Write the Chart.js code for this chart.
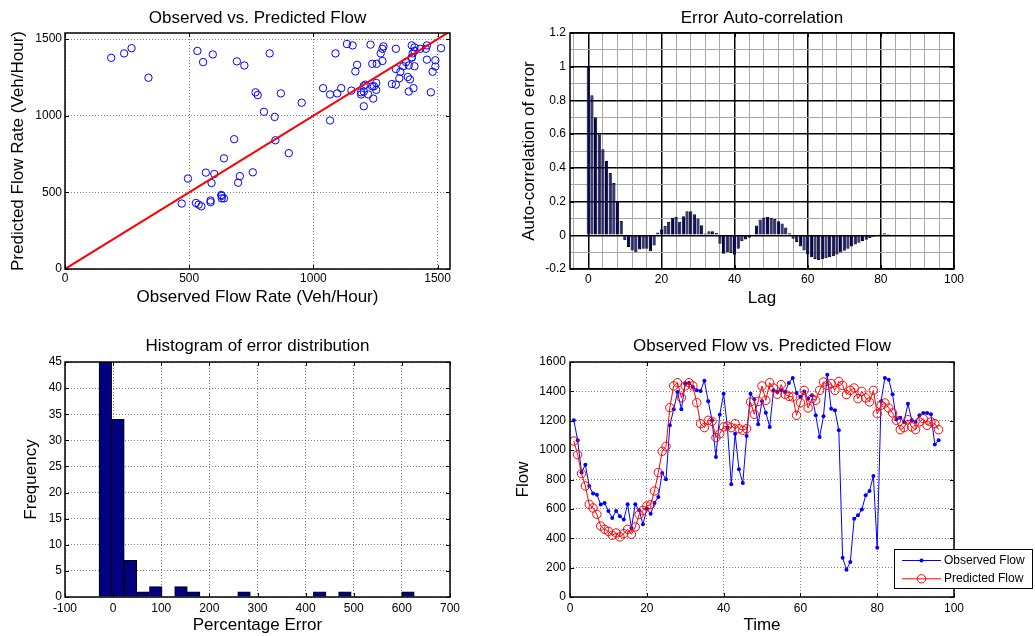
<!DOCTYPE html>
<html>
<head>
<meta charset="utf-8">
<script src="https://cdn.jsdelivr.net/npm/chart.js@4"></script>
<style>
body { margin: 0; background: #fff; width: 1035px; height: 636px; overflow: hidden; position: relative; }
canvas { position: absolute; }
</style>
</head>
<body>
<canvas id="scatter" width="510" height="318" style="left:0;top:0"></canvas>
<canvas id="acf" width="525" height="318" style="left:510px;top:0"></canvas>
<canvas id="hist" width="510" height="318" style="left:0;top:318px"></canvas>
<canvas id="flow" width="525" height="318" style="left:510px;top:318px"></canvas>
<script>
Chart.defaults.font.family = "'Liberation Sans', Arial, Helvetica, sans-serif"
Chart.defaults.font.size = 12
Chart.defaults.color = '#000'
Chart.defaults.animation = false

// time series (also gives the observed/predicted pairs of the scatter)
const timeSteps = [1,2,3,4,5,6,7,8,9,10,11,12,13,14,15,16,17,18,19,20,21,22,23,24,25,26,27,28,29,30,31,32,33,34,35,36,37,38,39,40,41,42,43,44,45,46,47,48,49,50,51,52,53,54,55,56,57,58,59,60,61,62,63,64,65,66,67,68,69,70,71,72,73,74,75,76,77,78,79,80,81,82,83,84,85,86,87,88,89,90,91,92,93,94,95,96]
const observedFlow = [1203,1067,847,901,756,704,697,629,640,586,
  538,586,549,527,631,470,631,590,495,601,
  567,640,681,844,801,1169,1278,1396,1278,1453,
  1457,1430,1407,1403,1473,1332,1203,953,1241,1384,
  1153,767,1112,869,776,1096,1384,1346,1176,1332,
  1255,1158,1407,1396,1407,1396,1457,1491,1389,1362,
  1400,1350,1373,1237,1089,1230,1514,1282,1271,1135,
  268,186,238,533,556,595,692,722,824,336,
  1332,1491,1480,1380,1210,1221,1192,1316,1203,1192,
  1237,1253,1253,1244,1039,1067]
const predictedFlow = [1062,969,840,756,631,606,563,483,461,447,
  420,436,409,431,461,427,477,561,590,620,
  629,722,847,992,1026,1289,1437,1459,1357,1437,
  1459,1437,1323,1180,1153,1203,1196,1085,1112,1158,
  1164,1153,1180,1146,1135,1146,1328,1244,1332,1437,
  1339,1459,1423,1380,1446,1380,1366,1362,1237,1323,
  1407,1287,1350,1339,1407,1464,1441,1453,1407,1468,
  1441,1378,1407,1423,1350,1400,1355,1328,1407,1248,
  1305,1321,1287,1253,1203,1139,1153,1207,1158,1139,
  1192,1214,1169,1192,1180,1139]
const flowTicks = [0,200,400,600,800,1000,1200,1400,1600]
const timeTicks = [0,20,40,60,80,100]

// scatter
const rateTicks = [0,500,1000,1500]
const diagonalLine = [0,1550]

// error auto-correlation
const lags = [0,1,2,3,4,5,6,7,8,9,10,11,12,13,14,15,16,17,18,19,20,21,22,23,24,25,26,27,28,29,30,31,32,33,34,35,36,37,38,39,40,41,42,43,44,45,46,47,48,49,50,51,52,53,54,55,56,57,58,59,60,61,62,63,64,65,66,67,68,69,70,71,72,73,74,75,76,77,78,79,80,81,82,83,84,85,86,87,88]
const acfValues = [1.0,0.83,0.70,0.60,0.51,0.44,0.37,0.31,0.205,0.085,
  -0.03,-0.07,-0.09,-0.10,-0.085,-0.08,-0.08,-0.095,-0.06,0.016,
  0.034,0.056,0.08,0.104,0.11,0.08,0.113,0.143,0.143,0.125,
  0.10,0.06,0.01,0.024,0.024,0.014,-0.05,-0.11,-0.10,-0.105,
  -0.115,-0.08,-0.035,-0.025,-0.015,0.005,0.058,0.094,0.105,0.11,
  0.104,0.096,0.084,0.07,0.046,0.012,-0.02,-0.04,-0.066,-0.09,
  -0.114,-0.13,-0.14,-0.146,-0.142,-0.136,-0.13,-0.124,-0.114,-0.102,
  -0.092,-0.08,-0.066,-0.054,-0.044,-0.034,-0.026,-0.016,-0.008,-0.002,
  0.01,0.012,0.008,0.004,0.004,0.004,0.004,0.004,0.004]
const lagTicks = [-4,0,4,8,12,16,20,24,28,32,36,40,44,48,52,56,60,64,68,72,76,80,84,88,92,96,100]
const acfTicks = [-0.2,-0.1,0,0.1,0.2,0.3,0.4,0.5,0.6,0.7,0.8,0.9,1,1.1,1.2]

// histogram of percentage error
const errorBins = [-16.2,10,36.2,62.4,88.6,114.8,141,167.2,193.4,219.6,245.8,272,298.2,324.4,350.6,376.8,403,429.2,455.4,481.6,507.8,534,560.2,586.4,612.6]
const errorCounts = [45,34,7,1,2,0,2,1,0,0,0,1,0,0,0,0,0,1,0,1,0,0,0,0,1]
const errorTicks = [-100,0,100,200,300,400,500,600,700]
const freqTicks = [0,5,10,15,20,25,30,35,40,45]

const isMajorLag = v => v % 20 === 0
const isMajorAcf = v => Math.abs(Math.round(v * 10)) % 2 === 0

function makeAxis(o) {
    return {
        type: 'linear',
        min: o.min,
        max: o.max,
        offset: false,
        afterBuildTicks: s => { s.ticks = o.ticks.map(v => ({value: v})) },
        afterFit: s => {
            if (s.isHorizontal()) s.height = o.size
            else s.width = o.size
        },
        ticks: {
            autoSkip: false,
            maxRotation: 0,
            minRotation: 0,
            padding: o.tickPad,
            callback: o.label || (v => String(v))
        },
        grid: {
            offset: false,
            drawTicks: false,
            color: o.gridColor || 'rgba(0,0,0,0.5)',
            lineWidth: o.gridWidth || 1
        },
        border: {display: false, dash: o.dash || [1, 2]},
        title: {display: true, text: o.title, font: {size: 17}, padding: o.titlePad}
    }
}

function makeTitle(text, top, bottom) {
    return {
        display: true, text, fullSize: false, color: '#000',
        font: {size: 17, weight: 'normal'},
        padding: {top, bottom}
    }
}

// box round the plot area with small inward ticks, like the original axes
const frameBox = {
    id: 'frameBox',
    afterDraw(chart) {
        const {ctx, chartArea: a, scales} = chart
        ctx.save()
        ctx.strokeStyle = '#000'
        ctx.lineWidth = 1
        ctx.beginPath()
        scales.x.ticks.forEach(t => {
            if (t.label === '') return
            const px = Math.round(scales.x.getPixelForValue(t.value)) + 0.5
            ctx.moveTo(px, a.bottom); ctx.lineTo(px, a.bottom - 4)
            ctx.moveTo(px, a.top); ctx.lineTo(px, a.top + 4)
        })
        scales.y.ticks.forEach(t => {
            if (t.label === '') return
            const py = Math.round(scales.y.getPixelForValue(t.value)) + 0.5
            ctx.moveTo(a.left, py); ctx.lineTo(a.left + 4, py)
            ctx.moveTo(a.right, py); ctx.lineTo(a.right - 4, py)
        })
        ctx.stroke()
        ctx.lineWidth = 1.5
        ctx.strokeRect(a.left, a.top, a.right - a.left, a.bottom - a.top)
        ctx.restore()
    }
}

// boxed legend with line + marker samples (bottom right, overhanging the plot)
const flowLegend = {
    id: 'flowLegend',
    afterDraw(chart) {
        const {ctx, chartArea: a} = chart
        const left = Math.round(a.right - 60), top = Math.round(a.bottom - 48)
        ctx.save()
        ctx.fillStyle = '#fff'
        ctx.fillRect(left, top, 138, 39)
        ctx.strokeStyle = '#000'
        ctx.lineWidth = 1
        ctx.strokeRect(left + 0.5, top + 0.5, 138, 39)
        chart.data.datasets.forEach((ds, i) => {
            const y = top + 11.5 + i * 18.3
            ctx.strokeStyle = ds.borderColor
            ctx.lineWidth = 1
            ctx.beginPath()
            ctx.moveTo(left + 8, y)
            ctx.lineTo(left + 47, y)
            ctx.stroke()
            ctx.beginPath()
            ctx.arc(left + 27.5, y, ds.pointRadius, 0, Math.PI * 2)
            if (ds.pointBackgroundColor !== 'transparent') {
                ctx.fillStyle = ds.pointBackgroundColor
                ctx.fill()
            } else {
                ctx.strokeStyle = ds.pointBorderColor
                ctx.stroke()
            }
            ctx.fillStyle = '#000'
            ctx.font = "12px 'Liberation Sans', Arial, sans-serif"
            ctx.textBaseline = 'middle'
            ctx.fillText(ds.label, left + 50, y)
        })
        ctx.restore()
    }
}

const baseOptions = right => ({
    responsive: false,
    animation: false,
    events: [],
    layout: {padding: {left: 0, right, top: 0, bottom: 0}, autoPadding: false}
})

// Observed vs. Predicted Flow (scatter)
new Chart(document.getElementById('scatter'), {
    type: 'scatter',
    data: {
        datasets: [{
            data: diagonalLine.map(v => ({x: v, y: v})),
            showLine: true,
            borderColor: '#ff0000',
            borderWidth: 2,
            pointRadius: 0
        }, {
            data: observedFlow.map((v, i) => ({x: v, y: predictedFlow[i]})),
            borderColor: '#0000ff',
            backgroundColor: 'transparent',
            borderWidth: 1,
            pointRadius: 3.7
        }]
    },
    options: {
        ...baseOptions(60),
        plugins: {
            legend: {display: false},
            tooltip: {enabled: false},
            title: makeTitle('Observed vs. Predicted Flow', 8.1, 4.5)
        },
        scales: {
            x: makeAxis({min: 0, max: 1550, ticks: rateTicks, size: 49, tickPad: 2,
                title: 'Observed Flow Rate (Veh/Hour)', titlePad: {top: 0, bottom: 10.1}}),
            y: makeAxis({min: 0, max: 1540, ticks: rateTicks, size: 65, tickPad: 3,
                title: 'Predicted Flow Rate (Veh/Hour)', titlePad: {top: 8.1, bottom: 0}})
        }
    },
    plugins: [frameBox]
})

// Error Auto-correlation
new Chart(document.getElementById('acf'), {
    type: 'bar',
    data: {
        datasets: [{
            data: lags.map((l, i) => ({x: l, y: acfValues[i]})),
            backgroundColor: '#000080',
            borderColor: '#000000',
            borderWidth: 1,
            barPercentage: 0.88,
            categoryPercentage: 1.0
        }]
    },
    options: {
        ...baseOptions(81),
        plugins: {
            legend: {display: false},
            tooltip: {enabled: false},
            title: makeTitle('Error Auto-correlation', 8.1, 4.5)
        },
        scales: {
            x: makeAxis({min: -5, max: 100, ticks: lagTicks, size: 49, tickPad: 3,
                label: v => isMajorLag(v) ? String(v) : '',
                gridColor: c => isMajorLag(c.tick.value) ? '#000' : '#a8a8a8',
                gridWidth: c => isMajorLag(c.tick.value) ? 1.5 : 1,
                dash: [1, 0],
                title: 'Lag', titlePad: {top: 0, bottom: 9.5}}),
            y: makeAxis({min: -0.2, max: 1.2, ticks: acfTicks, size: 60, tickPad: 4,
                label: v => isMajorAcf(v) ? String(Math.round(v * 10) / 10) : '',
                gridColor: c => isMajorAcf(c.tick.value) ? '#000' : '#a8a8a8',
                gridWidth: c => isMajorAcf(c.tick.value) ? 1.5 : 1,
                dash: [1, 0],
                title: 'Auto-correlation of error', titlePad: {top: 9.1, bottom: 0}})
        }
    },
    plugins: [frameBox]
})

// Histogram of error distribution
new Chart(document.getElementById('hist'), {
    type: 'bar',
    data: {
        datasets: [{
            data: errorBins.map((b, i) => ({x: b, y: errorCounts[i]})),
            backgroundColor: '#000080',
            borderColor: '#000000',
            borderWidth: 1,
            barPercentage: 1.0,
            categoryPercentage: 1.0
        }]
    },
    options: {
        ...baseOptions(60),
        plugins: {
            legend: {display: false},
            tooltip: {enabled: false},
            title: makeTitle('Histogram of error distribution', 18.3, 5.3)
        },
        scales: {
            x: makeAxis({min: -100, max: 700, ticks: errorTicks, size: 39, tickPad: 4,
                title: 'Percentage Error', titlePad: {top: 0, bottom: 0}}),
            y: makeAxis({min: 0, max: 45, ticks: freqTicks, size: 65, tickPad: 3,
                title: 'Frequency', titlePad: {top: 21.5, bottom: 0}})
        }
    },
    plugins: [frameBox]
})

// Observed Flow vs. Predicted Flow (time series)
new Chart(document.getElementById('flow'), {
    type: 'line',
    data: {
        datasets: [{
            label: 'Observed Flow',
            data: timeSteps.map((t, i) => ({x: t, y: observedFlow[i]})),
            borderColor: '#0000ff',
            borderWidth: 1,
            pointRadius: 2,
            pointBackgroundColor: '#0000ff',
            pointBorderColor: '#0000ff',
            pointBorderWidth: 0,
            order: 1
        }, {
            label: 'Predicted Flow',
            data: timeSteps.map((t, i) => ({x: t, y: predictedFlow[i]})),
            borderColor: '#ff0000',
            borderWidth: 1,
            pointRadius: 4.2,
            pointBackgroundColor: 'transparent',
            pointBorderColor: '#ff0000',
            pointBorderWidth: 1,
            order: 0
        }]
    },
    options: {
        ...baseOptions(81),
        plugins: {
            legend: {display: false},
            tooltip: {enabled: false},
            title: makeTitle('Observed Flow vs. Predicted Flow', 18.5, 5.1)
        },
        scales: {
            x: makeAxis({min: 0, max: 100, ticks: timeTicks, size: 39, tickPad: 4,
                title: 'Time', titlePad: {top: 0, bottom: 0.8}}),
            y: makeAxis({min: 0, max: 1600, ticks: flowTicks, size: 60, tickPad: 4,
                title: 'Flow', titlePad: {top: 3.5, bottom: 0}})
        }
    },
    plugins: [frameBox, flowLegend]
})
</script>
</body>
</html>
